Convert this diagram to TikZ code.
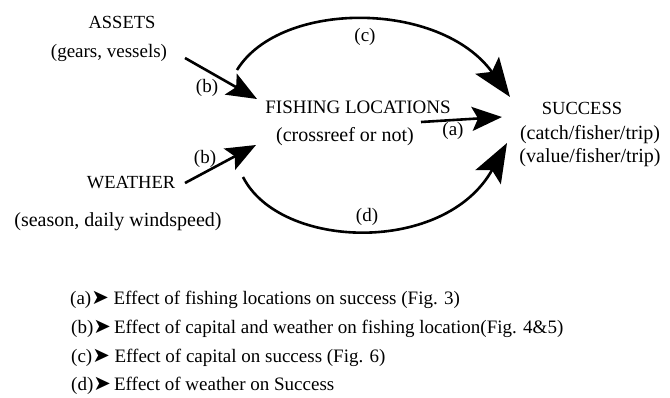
\documentclass[tikz,border=0pt]{standalone}
\usepackage{fontspec}
\setmainfont{Liberation Serif}
\newfontfamily\symfont{DejaVu Sans}
\usetikzlibrary{arrows.meta}
\tikzset{
  txt/.style={inner sep=0pt, font=\fontsize{19}{23}\selectfont},
  caps/.style={inner sep=0pt, font=\fontsize{18.5}{23}\selectfont},
  sub/.style={inner sep=0pt, font=\fontsize{20}{23}\selectfont},
  key/.style={txt, anchor=west},
  link/.style={line width=2.6pt, -{Stealth[length=30pt,width=24pt,inset=6pt]}},
  biglink/.style={line width=2.6pt, -{Stealth[length=39pt,width=29pt,inset=8pt]}},
}
\newcommand{\keyarrow}{{\symfont\fontsize{21}{23}\selectfont ➤}}
\begin{document}
\begin{tikzpicture}[x=1pt,y=-1pt]
  \useasboundingbox (0,0) rectangle (670,397);
  % causes
  \node[caps] (assets) at (122,22) {ASSETS};
  \node[txt] (gears) at (109,53) {(gears, vessels)};
  \node[caps] (weather) at (131,183) {WEATHER};
  \node[sub] (season) at (118,222) {(season, daily windspeed)};
  % middle and effect
  \node[txt] (fish) at (358,107) {FISHING LOCATIONS};
  \node[sub] (reef) at (345,137) {(crossreef or not)};
  \node[caps] (success) at (582,108) {SUCCESS};
  \node[sub] (catch) at (590,135) {(catch/fisher/trip)};
  \node[sub] (value) at (590,158) {(value/fisher/trip)};
  % arrow ends
  \coordinate (assetsout) at (185,58);
  \coordinate (fishin1) at (257,99);
  \coordinate (weatherout) at (185,183);
  \coordinate (fishin2) at (256,145);
  \coordinate (fishout) at (421,122);
  \coordinate (succin) at (502,117);
  \coordinate (capout) at (237,70);
  \coordinate (succtop) at (510,97);
  \coordinate (wout) at (243,177);
  \coordinate (succbot) at (507,143);
  \draw[link] (assetsout) -- (fishin1);
  \draw[link] (weatherout) -- (fishin2);
  \draw[link] (fishout) -- (succin);
  \draw[biglink] (capout) .. controls (280,0) and (440,0) .. (succtop);
  \draw[biglink] (wout) .. controls (280,250) and (445,255) .. (succbot);
  \node[txt] (lb1) at (207,88) {(b)};
  \node[txt] (lb2) at (205,159) {(b)};
  \node[txt] (la) at (453,131) {(a)};
  \node[txt] (lc) at (365,37) {(c)};
  \node[txt] (ld) at (367,217) {(d)};
  % key
  \node[key] (keya) at (70,300) {(a)\keyarrow\ Effect of fishing locations on success (Fig. 3)};
  \node[key] (keyb) at (71,329) {(b)\keyarrow\,Effect of capital and weather on fishing location(Fig. 4\&5)};
  \node[key] (keyc) at (71,358) {(c)\keyarrow\ Effect of capital on success (Fig. 6)};
  \node[key] (keyd) at (71,386) {(d)\keyarrow\,Effect of weather on Success};
\end{tikzpicture}
\end{document}
